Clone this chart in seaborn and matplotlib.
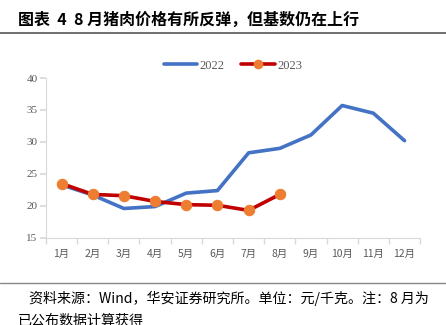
import matplotlib
matplotlib.use("Agg")
import matplotlib.pyplot as plt
import seaborn as sns
import pandas as pd
import numpy as np
from matplotlib.lines import Line2D

months = ["1月", "2月", "3月", "4月", "5月", "6月", "7月", "8月", "9月", "10月", "11月", "12月"]
v2022 = [23.3, 21.7, 19.6, 19.9, 22.0, 22.4, 28.3, 29.0, 31.1, 35.7, 34.5, 30.2]
v2023 = [23.5, 21.8, 21.6, 20.7, 20.2, 20.1, 19.3, 21.8]
yticks = [15, 20, 25, 30, 35, 40]

title = "图表  4  8 月猪肉价格有所反弹，但基数仍在上行"
footer1 = "资料来源：Wind，华安证券研究所。单位：元/千克。注：8 月为"
footer2 = "已公布数据计算获得"

sns.set_theme(style="white")
plt.rcParams['font.family'] = ['Noto Sans CJK SC', 'DejaVu Sans']

df22 = pd.DataFrame({"x": np.arange(len(v2022)), "v": v2022})
df23 = pd.DataFrame({"x": np.arange(len(v2023)), "v": v2023})

fig = plt.figure(figsize=(4.46, 3.25), dpi=100)
ax = fig.add_axes([0.103, 0.268, 0.839, 0.492])

blue = "#4472C4"
red = "#C00000"
orange = "#ED7D31"

sns.lineplot(data=df22, x="x", y="v", ax=ax, color=blue, linewidth=2.6)
sns.lineplot(data=df23, x="x", y="v", ax=ax, color=red, linewidth=2.6,
             marker="o", markersize=7.5, markerfacecolor=orange, markeredgecolor=orange)

ax.set_xlim(-0.5, 11.5)
ax.set_ylim(15, 40)
ax.set_yticks(yticks)
ax.set_yticklabels([str(t) for t in yticks], color="#595959", fontsize=8,
                   family=['Liberation Serif', 'DejaVu Serif'])
ax.set_xticks(np.arange(12))
ax.set_xticklabels(months, color="#595959", fontsize=7.5)
ax.set_xticks(np.arange(-0.5, 12, 1), minor=True)
ax.tick_params(axis="x", which="major", length=0, pad=8)
ax.tick_params(axis="x", which="minor", length=4, color="#D9D9D9", direction="out", bottom=True)
ax.tick_params(axis="y", length=4, color="#D9D9D9", direction="out", left=True, pad=2)
ax.set_xlabel("")
ax.set_ylabel("")
for s in ["top", "right"]:
    ax.spines[s].set_visible(False)
for s in ["left", "bottom"]:
    ax.spines[s].set_color("#D9D9D9")
    ax.spines[s].set_linewidth(0.8)
ax.grid(False)

handles = [Line2D([0], [0], color=blue, lw=2.6),
           Line2D([0], [0], color=red, lw=2.6, marker="o", markersize=6,
                  markerfacecolor=orange, markeredgecolor=orange)]
leg = ax.legend(handles, ["2022", "2023"], loc="lower center", bbox_to_anchor=(0.5, 1.0),
                ncol=2, frameon=False, handlelength=2.7, columnspacing=1.3, handletextpad=0.2,
                borderaxespad=0.1,
                prop={"family": ['Liberation Serif'], "size": 9})
for t in leg.get_texts():
    t.set_color("#595959")

fig.text(0.04, 0.938, title, fontsize=11.5, fontweight="bold", color="#000000", va="center")
fig.add_artist(Line2D([0, 1], [0.898, 0.898], color="#555555", lw=1.2, transform=fig.transFigure))
fig.add_artist(Line2D([0, 1], [0.130, 0.130], color="#888888", lw=1.0, transform=fig.transFigure))
fig.text(0.065, 0.083, footer1, fontsize=10.1, color="#000000", va="center")
fig.text(0.04, 0.012, footer2, fontsize=10.1, color="#000000", va="center")

fig.savefig("out.png", dpi=100)
